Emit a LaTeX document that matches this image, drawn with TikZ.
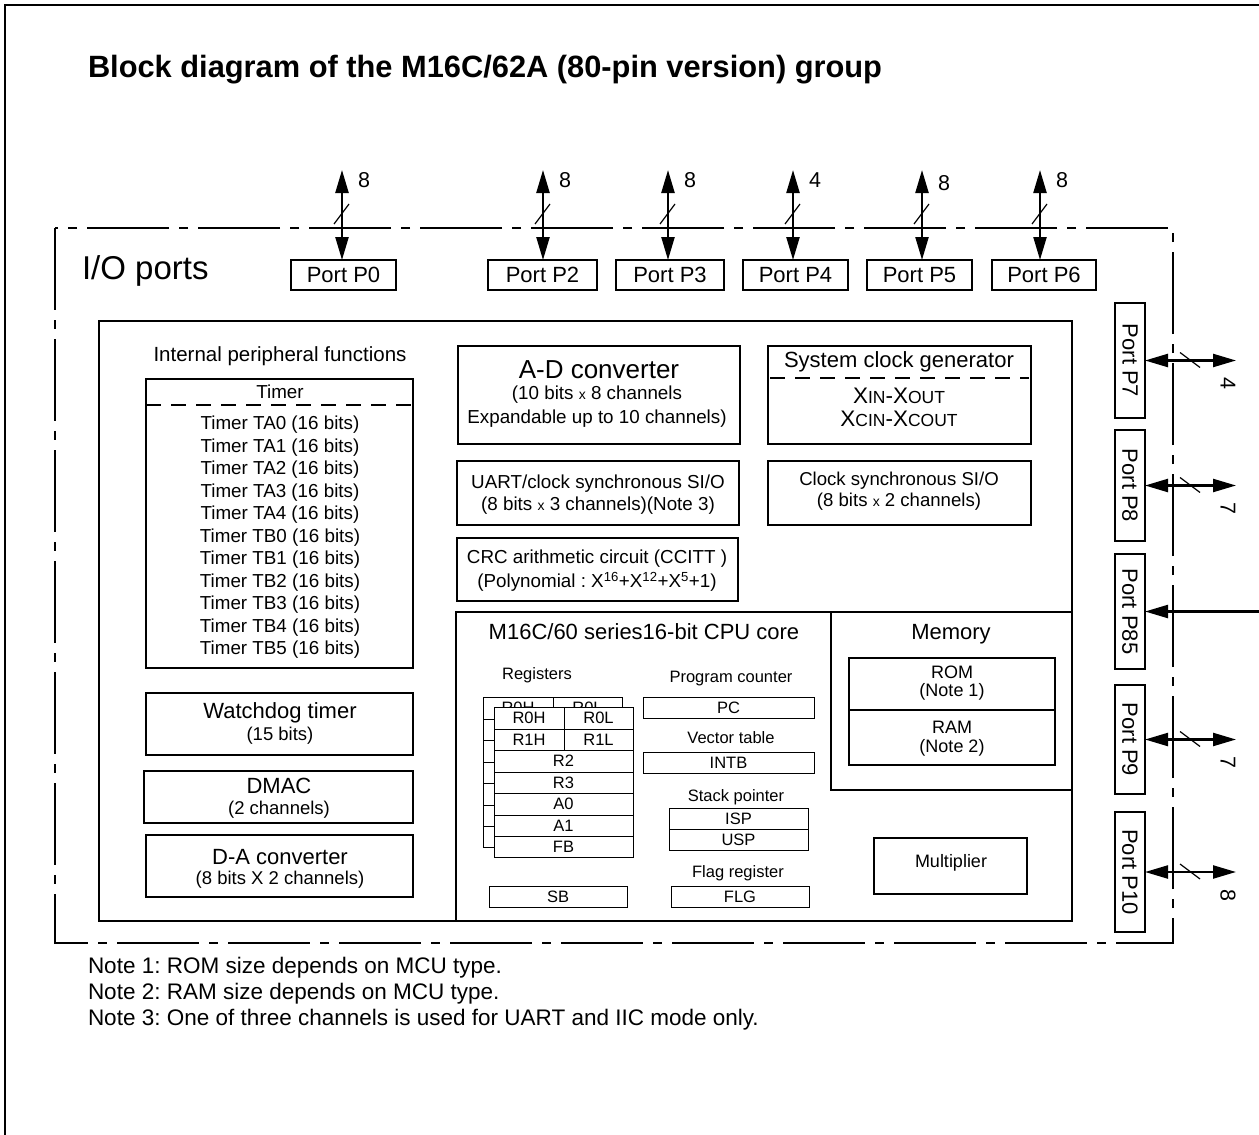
\documentclass[tikz,border=0pt]{standalone}
\usepackage{fontspec}
\setmainfont{Liberation Sans}
\usetikzlibrary{arrows.meta}
\frenchspacing
\newcommand\fsz[1]{\fontsize{#1}{#1}\selectfont}
\newcommand\smx{{\fsz{14}x}}
\newcommand\smc[1]{{\fsz{17.5}#1}}
\newcommand\mybox[7][]{%
  \pgfmathsetmacro\bxw{#5-#3}%
  \pgfmathsetmacro\bxh{#6-#4}%
  \node[box,minimum width=\bxw pt,minimum height=\bxh pt,#1] (#2) at ({(#3+#5)/2},{(#4+#6)/2}) {#7};}
\begin{document}
\begin{tikzpicture}[x=1pt,y=-1pt,
  box/.style={draw,line width=1.2pt,inner sep=0pt,outer sep=0pt},
  port/.style={box,font=\fsz{22}},
  reg/.style={box,line width=1pt,fill=white,font=\fsz{16.5}},
  txt/.style={inner sep=0pt,outer sep=0pt},
  bidir/.style={line width=2.3pt,{Triangle[length=23pt,width=13pt]}-{Triangle[length=23pt,width=13pt]}},
  inarr/.style={line width=2.3pt,-{Triangle[length=23pt,width=13pt]}},
  slash/.style={line width=1.2pt},
  iodash/.style={line width=1.5pt,dash pattern=on 82pt off 10pt on 9pt off 10pt},
  tdash/.style={line width=1.2pt,dash pattern=on 15pt off 10pt}]
\useasboundingbox (0,0) rectangle (1259,1135);
\draw[line width=2.5pt] (5,1135) -- (5,5) -- (1259,5);
\node[txt,anchor=west,font=\fsz{30.8}\bfseries] (title) at (88,70) {Block diagram of the M16C/62A (80-pin version) group};

% I/O ports dashed boundary
\draw[iodash] (55,228) rectangle (1173,943);
\node[txt,anchor=west,font=\fsz{33}] (io) at (82,271) {I/O ports};

% top ports
\mybox[port]{p0}{291}{260}{396}{290}{Port P0}
\mybox[port]{p2}{488}{260}{597}{290}{Port P2}
\mybox[port]{p3}{616}{260}{724}{290}{Port P3}
\mybox[port]{p4}{743}{260}{848}{290}{Port P4}
\mybox[port]{p5}{867}{260}{972}{290}{Port P5}
\mybox[port]{p6}{992}{260}{1096}{290}{Port P6}
\foreach \n/\x/\l/\ly in {p0/342/8/180,p2/543/8/180,p3/668/8/180,p4/793/4/180,p5/922/8/183,p6/1040/8/180}{
  \coordinate (top\n) at (\x,170);
  \draw[bidir] (top\n) -- (top\n |- \n.north);
  \draw[slash] (\x-8,224) -- (\x+7,204);
  \node[txt,font=\fsz{21.5}] (lab\n) at (\x+22,\ly) {\l};
}

% right ports
\mybox{p7}{1115}{303}{1145}{418}{}
\mybox{p8}{1115}{430}{1145}{541}{}
\mybox{p85}{1115}{554}{1145}{669}{}
\mybox{p9}{1115}{685}{1145}{794}{}
\mybox{p10}{1115}{812}{1145}{932}{}
\foreach \n/\t in {p7/Port P7,p8/Port P8,p85/Port P85,p9/Port P9,p10/Port P10}{
  \node[txt,rotate=-90,font=\fsz{22}] (t\n) at (\n) {\t};
}
\coordinate (rend) at (1236,0);
\coordinate (redge) at (1259,0);
\foreach \n/\l in {p7/4,p8/7,p9/7,p10/8}{
  \draw[bidir] (\n.east) -- (\n.east -| rend);
  \draw[slash] ([shift={(35,-8)}]\n.east) -- ([shift={(55,7)}]\n.east);
  \node[txt,rotate=-90,font=\fsz{21.5}] (lab\n) at ([shift={(83,23)}]\n.east) {\l};
}
\draw[inarr] (p85.east -| redge) -- (p85.east);

% inner box
\mybox{inner}{99}{321}{1072}{921}{}
\coordinate (cpuA) at (456,921);
\coordinate (cpuB) at (456,612);
\coordinate (cpuC) at (1072,612);
\draw[line width=1.2pt] (cpuA) -- (cpuB) -- (cpuC);

% left peripherals
\node[txt,font=\fsz{20.5}] (ipf) at (280,356) {Internal peripheral functions};
\mybox{timer}{146}{379}{413}{668}{}
\node[txt,font=\fsz{18.8}] (timerT) at (280,392) {Timer};
\coordinate (tdl) at (146,405);
\coordinate (tdr) at (413,405);
\draw[tdash] (tdl) -- (tdr);
\foreach \t [count=\i from 0] in {TA0,TA1,TA2,TA3,TA4,TB0,TB1,TB2,TB3,TB4,TB5}{
  \node[txt,font=\fsz{18.8}] (tm\t) at (280,{425+22.5*\i}) {Timer \t\ (16 bits)};
}
\mybox{wdt}{146}{693}{413}{755}{}
\node[txt,font=\fsz{22}] (wdt1) at (280,713) {Watchdog timer};
\node[txt,font=\fsz{18.5}] (wdt2) at (280,736) {(15 bits)};
\mybox{dmac}{144}{771}{413}{823}{}
\node[txt,font=\fsz{22}] (dmac1) at (279,786) {DMAC};
\node[txt,font=\fsz{18.5}] (dmac2) at (279,810) {(2 channels)};
\mybox{dac}{146}{835}{413}{897}{}
\node[txt,font=\fsz{22}] (dac1) at (280,857) {D-A converter};
\node[txt,font=\fsz{18.5}] (dac2) at (280,880) {(8 bits X 2 channels)};

% middle blocks
\mybox{adc}{458}{346}{740}{444}{}
\node[txt,font=\fsz{26}] (adc1) at (599,370) {A-D converter};
\node[txt,font=\fsz{18.8}] (adc2) at (597,395) {(10 bits \smx\ 8 channels};
\node[txt,font=\fsz{18.8}] (adc3) at (597,419) {Expandable up to 10 channels)};
\mybox{scg}{768}{346}{1031}{444}{}
\node[txt,font=\fsz{22}] (scg1) at (899,362) {System clock generator};
\coordinate (sdl) at (770,378);
\coordinate (sdr) at (1029,378);
\draw[tdash] (sdl) -- (sdr);
\node[txt,font=\fsz{22.5}] (scg2) at (899,396) {X\smc{IN}-X\smc{OUT}};
\node[txt,font=\fsz{22.5}] (scg3) at (899,419) {X\smc{CIN}-X\smc{COUT}};
\mybox{uart}{457}{461}{739}{525}{}
\node[txt,font=\fsz{18.8}] (uart1) at (598,484) {UART/clock synchronous SI/O};
\node[txt,font=\fsz{18.8}] (uart2) at (598,506) {(8 bits \smx\ 3 channels)(Note 3)};
\mybox{csio}{768}{461}{1031}{525}{}
\node[txt,font=\fsz{18.6}] (csio1) at (899,481) {Clock synchronous SI/O};
\node[txt,font=\fsz{18.6}] (csio2) at (899,502) {(8 bits \smx\ 2 channels)};
\mybox{crc}{457}{538}{738}{601}{}
\node[txt,font=\fsz{18.8}] (crc1) at (597,559) {CRC arithmetic circuit (CCITT )};
\node[txt,font=\fsz{18.8}] (crc2) at (597,582) {(Polynomial : X\textsuperscript{16}+X\textsuperscript{12}+X\textsuperscript{5}+1)};

% CPU core
\node[txt,font=\fsz{22}] (cpu) at (644,632) {M16C/60 series16-bit CPU core};
\node[txt,font=\fsz{16.5}] (regs) at (537,675) {Registers};
\node[txt,font=\fsz{16.5}] (pcl) at (731,679) {Program counter};
\mybox[reg]{pc}{643}{697}{814}{718}{PC}
\node[txt,font=\fsz{16.5}] (vtl) at (731,738) {Vector table};
\mybox[reg]{intb}{643}{752}{814}{773}{INTB}
\node[txt,font=\fsz{16.5}] (spl) at (736,797) {Stack pointer};
\mybox[reg]{isp}{669}{808}{808}{829}{ISP}
\mybox[reg]{usp}{669}{829}{808}{850}{USP}
\node[txt,font=\fsz{16.5}] (flgl) at (738,873) {Flag register};
\mybox[reg]{flg}{671}{886}{809}{907}{FLG}
\mybox[reg]{sb}{489}{886}{627}{907}{SB}
% back register bank (only its top row shows above the front bank)
\mybox[reg]{bR0H}{483}{697}{553}{719}{R0H}
\mybox[reg]{bR0L}{553}{697}{622}{719}{R0L}
\mybox[reg]{bR1H}{483}{719}{553}{740}{}
\mybox[reg]{bR1L}{553}{719}{622}{740}{}
\mybox[reg]{bR2}{483}{740}{622}{762}{}
\mybox[reg]{bR3}{483}{762}{622}{783}{}
\mybox[reg]{bA0}{483}{783}{622}{805}{}
\mybox[reg]{bA1}{483}{805}{622}{826}{}
\mybox[reg]{bFB}{483}{826}{622}{847}{}
% front register bank
\mybox[reg]{R0H}{494}{707}{564}{729}{R0H}
\mybox[reg]{R0L}{564}{707}{633}{729}{R0L}
\mybox[reg]{R1H}{494}{729}{564}{750}{R1H}
\mybox[reg]{R1L}{564}{729}{633}{750}{R1L}
\mybox[reg]{R2}{494}{750}{633}{772}{R2}
\mybox[reg]{R3}{494}{772}{633}{793}{R3}
\mybox[reg]{A0}{494}{793}{633}{815}{A0}
\mybox[reg]{A1}{494}{815}{633}{836}{A1}
\mybox[reg]{FB}{494}{836}{633}{857}{FB}

% memory
\mybox{mem}{831}{612}{1072}{790}{}
\node[txt,font=\fsz{22}] (memT) at (951,634) {Memory};
\mybox{rom}{849}{658}{1055}{710}{}
\mybox{ram}{849}{710}{1055}{765}{}
\node[txt,font=\fsz{18}] (rom1) at (952,672) {ROM};
\node[txt,font=\fsz{18}] (rom2) at (952,692) {(Note 1)};
\node[txt,font=\fsz{18}] (ram1) at (952,727) {RAM};
\node[txt,font=\fsz{18}] (ram2) at (952,748) {(Note 2)};
\mybox{mul}{874}{838}{1027}{894}{}
\node[txt,font=\fsz{18}] (mulT) at (951,863) {Multiplier};

% notes
\node[txt,anchor=west,font=\fsz{22.5}] (n1) at (88,968) {Note 1: ROM size depends on MCU type.};
\node[txt,anchor=west,font=\fsz{22.5}] (n2) at (88,994) {Note 2: RAM size depends on MCU type.};
\node[txt,anchor=west,font=\fsz{22.5}] (n3) at (88,1020) {Note 3: One of three channels is used for UART and IIC mode only.};
\end{tikzpicture}
\end{document}
